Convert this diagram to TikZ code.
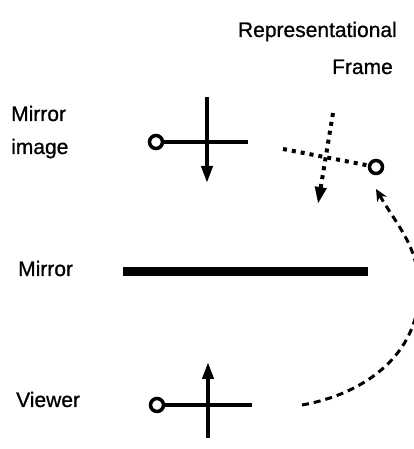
\documentclass[tikz,border=0pt]{standalone}
\usepackage{fontspec}
\setmainfont{Liberation Sans}
\newfontfamily\lblfont[FakeBold=0.8]{Liberation Sans}
\usetikzlibrary{arrows.meta}
\begin{document}
\begin{tikzpicture}[x=1pt,y=1pt,
  lbl/.style={inner sep=0pt, font=\lblfont\fontsize{21}{25}\selectfont},
  solidln/.style={line width=4pt},
  ring/.style={circle, draw, line width=3.5pt, minimum size=13pt, inner sep=0pt},
  dotln/.style={line width=4pt, dash pattern=on 4pt off 5pt},
  arr/.style={-{Triangle[length=17pt,width=11pt]}},
  dashln/.style={line width=3pt, dash pattern=on 7pt off 5pt, -{Stealth[length=12pt,width=11pt]}}
]
\useasboundingbox (0,0) rectangle (414,449);
% labels
\node[lbl, anchor=base east] (rep) at (397,412) {Representational};
\node[lbl, anchor=base east] (frame) at (393,375) {Frame};
\node[lbl, anchor=base west] (mi1) at (11,328) {Mirror};
\node[lbl, anchor=base west] (mi2) at (11,295) {image};
\node[lbl, anchor=base west] (mlab) at (18,173) {Mirror};
\node[lbl, anchor=base west] (vlab) at (16,42) {Viewer};
% mirror image
\node[ring] (mic) at (156,307) {};
\coordinate (mih) at (248,307);
\coordinate (mit) at (207,352);
\coordinate (mib) at (207,266);
\draw[solidln] (mic) -- (mih);
\draw[solidln, arr] (mit) -- (mib);
% representational frame
\node[ring] (rfc) at (376,282) {};
\coordinate (rfh) at (283,300);
\coordinate (rft) at (333,336);
\coordinate (rfb) at (318,245);
\draw[dotln] (rfh) -- (rfc);
\draw[dotln, arr] (rft) -- (rfb);
% mirror
\coordinate (ml) at (123,177);
\coordinate (mr) at (368,177);
\draw[line width=9pt] (ml) -- (mr);
% viewer
\node[ring] (vc) at (157,44) {};
\coordinate (vh) at (252,44);
\coordinate (vt) at (208,87);
\coordinate (vb) at (208,11);
\draw[solidln] (vc) -- (vh);
\draw[solidln, arr] (vb) -- (vt);
% dashed path
\coordinate (ds) at (302,44);
\coordinate (dm) at (419,159);
\coordinate (de) at (376,260);
\draw[dashln] (ds) to[out=10,in=-90] (dm) to[out=90,in=-60] (de);
\end{tikzpicture}
\end{document}
